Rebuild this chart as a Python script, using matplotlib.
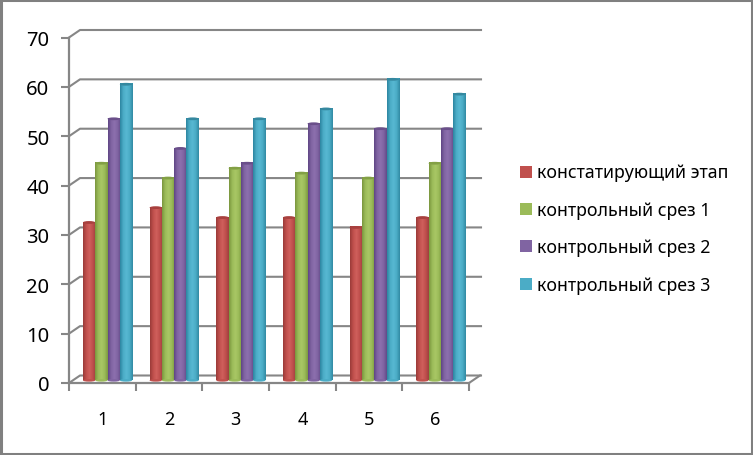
import numpy as np
import matplotlib
matplotlib.use('Agg')
import matplotlib.pyplot as plt
from matplotlib.colors import LinearSegmentedColormap
from matplotlib.patches import Ellipse, Rectangle

categories = ['1', '2', '3', '4', '5', '6']
series_names = ['констатирующий этап', 'контрольный срез 1', 'контрольный срез 2', 'контрольный срез 3']
stage0 = [32, 35, 33, 33, 31, 33]
cut1 = [44, 41, 43, 42, 41, 44]
cut2 = [53, 47, 44, 52, 51, 51]
cut3 = [60, 53, 53, 55, 61, 58]
y_ticks = [0, 10, 20, 30, 40, 50, 60, 70]

# dark edge, mid, light, mid, dark edge of each cylinder
bar_shades = [
    ['#9a3b39', '#c0504d', '#d0605c', '#c0504d', '#9e3f3e'],
    ['#7a963e', '#9bbb59', '#a9c765', '#9bbb59', '#7d9940'],
    ['#5f4685', '#8064a2', '#8d70ae', '#8064a2', '#624a88'],
    ['#2d85a0', '#4bacc6', '#58b8d2', '#4bacc6', '#318aa3'],
]
top_colors = ['#a8403e', '#83a045', '#6a4f8a', '#35889f']
legend_colors = ['#c0504d', '#9bbb59', '#8064a2', '#4bacc6']

W, H = 753, 456
fig = plt.figure(figsize=(W / 100, H / 100), dpi=100, facecolor='white')
plt.rcParams['font.family'] = ['Noto Sans', 'DejaVu Sans']

# front plane of the fake 3d box, in pixels
left, right, bottom, top = 69, 469, 384, 38.5
ax = fig.add_axes([left / W, 1 - bottom / H, (right - left) / W, (bottom - top) / H])
ax.set_xlim(0.5, 6.5)
ax.set_ylim(0, 70)
ax.patch.set_visible(False)
for side in ['top', 'right']:
    ax.spines[side].set_visible(False)
for side in ['left', 'bottom']:
    ax.spines[side].set_color('#868686')
    ax.spines[side].set_linewidth(1.6)

GRAY = '#868686'
depth_x, depth_y = 11, 7.5
px_x = 6 / (right - left)
px_y = 70 / (bottom - top)

# back wall gridlines with the slanted bit to the axis
for v in y_ticks:
    ax.plot([0.5, 0.5 + depth_x * px_x, 0.5 + (right + 1 - left) * px_x + depth_x * px_x],
            [v, v + depth_y * px_y, v + depth_y * px_y],
            color=GRAY, lw=1.5, clip_on=False, zorder=1)
ax.plot([6.5, 6.5 + depth_x * px_x], [0, depth_y * px_y], color=GRAY, lw=1.5, clip_on=False, zorder=1)

ax.set_xticks(np.arange(0.5, 7, 1))
ax.set_xticklabels([])
ax.set_yticks(y_ticks)
ax.tick_params(axis='both', color=GRAY, width=1.5, length=6, labelsize=14.5, labelcolor='black')
ax.tick_params(axis='y', pad=8)
for i, c in enumerate(categories):
    ax.text(i + 1, -7.2, c, ha='center', va='center', fontsize=13)

values = [stage0, cut1, cut2, cut3]
bar_w = 12.3 * px_x
off_x = 5.2 * px_x
off_y = 2.6 * px_y
for s, vals in enumerate(values):
    cmap = LinearSegmentedColormap.from_list('c%d' % s, bar_shades[s])
    grad = np.linspace(0, 1, 64).reshape(1, -1)
    for i, v in enumerate(vals):
        x0 = i + 1 + off_x + (s - 2) * bar_w
        ax.imshow(grad, cmap=cmap, aspect='auto', zorder=3 + s,
                  extent=[x0, x0 + bar_w, off_y, v + off_y])
        ax.add_patch(Ellipse((x0 + bar_w / 2, off_y), bar_w, 2.5 * px_y,
                             color=bar_shades[s][1], zorder=3 + s, lw=0))
        ax.add_patch(Ellipse((x0 + bar_w / 2, v + off_y), bar_w, 2.8 * px_y,
                             color=top_colors[s], zorder=3.5 + s, lw=0))
ax.set_xlim(0.5, 6.5)
ax.set_ylim(0, 70)

# legend placed by hand like the office one
for name, col, ypx in zip(series_names, legend_colors, [172.5, 210, 247, 285]):
    fig.patches.append(Rectangle((520 / W, 1 - (ypx + 6) / H), 12 / W, 12 / H,
                                 transform=fig.transFigure, facecolor=col, edgecolor='none'))
    fig.text(537 / W, 1 - (ypx + 1) / H, name, ha='left', va='center', fontsize=12.8, color='black')

# picture frame
fig.patches.append(Rectangle((1 / W, 1 / H), (W - 2) / W, (H - 2) / H, transform=fig.transFigure,
                             facecolor='none', edgecolor='#808080', lw=2.2))

fig.savefig('out.png', dpi=100)
